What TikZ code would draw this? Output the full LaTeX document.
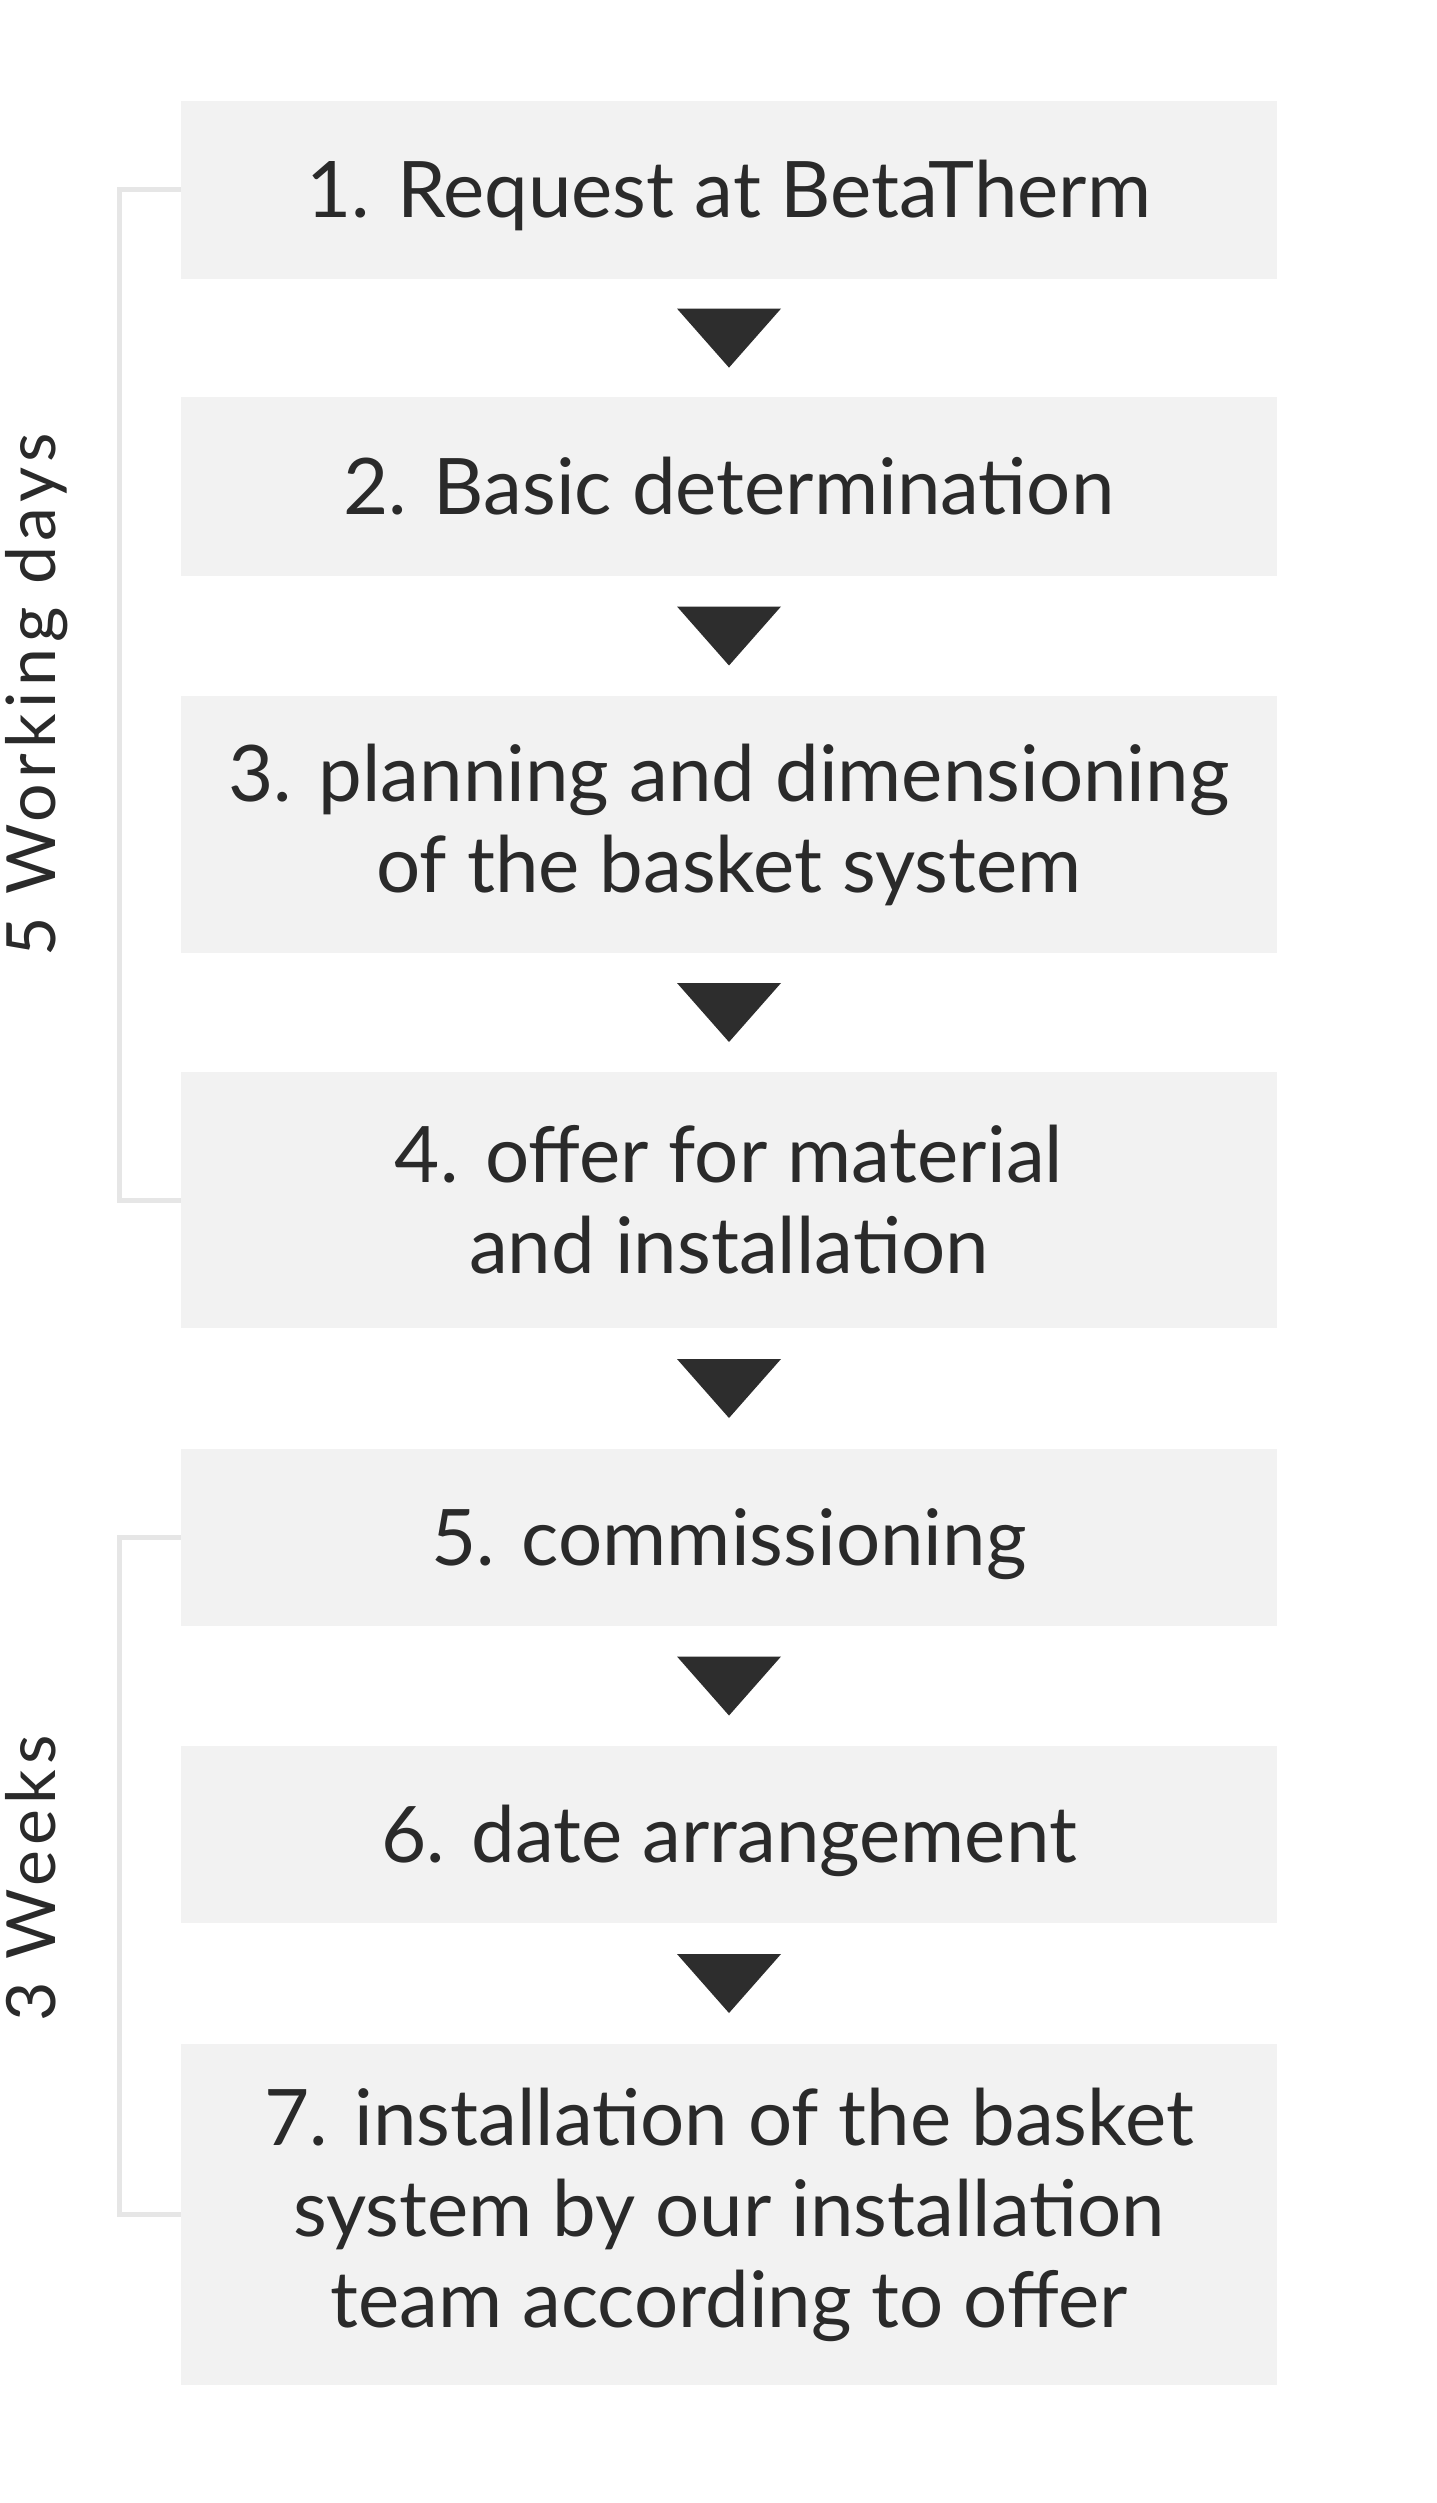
\documentclass[tikz,border=0pt]{standalone}
\usepackage{fontspec}
\setmainfont{Lato}
\usetikzlibrary{calc}
\definecolor{boxfill}{HTML}{F2F2F2}
\definecolor{txt}{HTML}{2A2A2A}
\definecolor{tri}{HTML}{2D2D2D}
\definecolor{brk}{HTML}{E6E6E6}
\begin{document}
\begin{tikzpicture}[x=0.5pt,y=-0.5pt,
  stepbox/.style={fill=boxfill, draw=none, minimum width=548pt, inner sep=0pt, text=txt, align=center, font=\fontsize{39}{45.5}\selectfont},
  oneline/.style={text height=28pt, text depth=0pt},
  arrowtri/.style={fill=tri, draw=none},
  bracketline/.style={draw=brk, line width=2.5pt},
  sidelabel/.style={rotate=90, anchor=base, text=txt, inner sep=0pt, font=\fontsize{34}{40}\selectfont\addfontfeatures{LetterSpace=8}}]
\useasboundingbox (0,0) rectangle (1436,2503);
\fill[white] (0,0) rectangle (1436,2503);
\node[stepbox, oneline, minimum height=89.25pt] (b1) at (729,190) {1. Request at BetaTherm};
\node[stepbox, oneline, minimum height=89.5pt] (b2) at (729,486.5) {2. Basic determination};
\node[stepbox, minimum height=128.5pt] (b3) at (729,824.5) {3. planning and dimensioning\\of the basket system};
\node[stepbox, minimum height=128pt] (b4) at (729,1200) {4. offer for material\\and installation};
\node[stepbox, oneline, minimum height=88.5pt] (b5) at (729,1537.5) {5. commissioning};
\node[stepbox, oneline, minimum height=88.5pt] (b6) at (729,1834.5) {6. date arrangement};
\node[stepbox, minimum height=170.5pt] (b7) at (729,2214.5) {7. installation of the basket\\system by our installation\\team according to offer};
\foreach \a/\b in {b1/b2,b2/b3,b3/b4,b4/b5,b5/b6,b6/b7}{
  \fill[arrowtri] ($(\a.south)!0.5!(\b.north)$) ++(-52,-29.5) -- ++(104,0) -- ++(-52,59) -- cycle;
}
\draw[bracketline] (b1.west) -- ++(-61,0) |- (b4.west);
\draw[bracketline] (b5.west) -- ++(-61,0) |- (b7.west);
\node[sidelabel] (l1) at (55,695) {5 Working days};
\node[sidelabel] (l2) at (55,1878) {3 Weeks};
\end{tikzpicture}
\end{document}
